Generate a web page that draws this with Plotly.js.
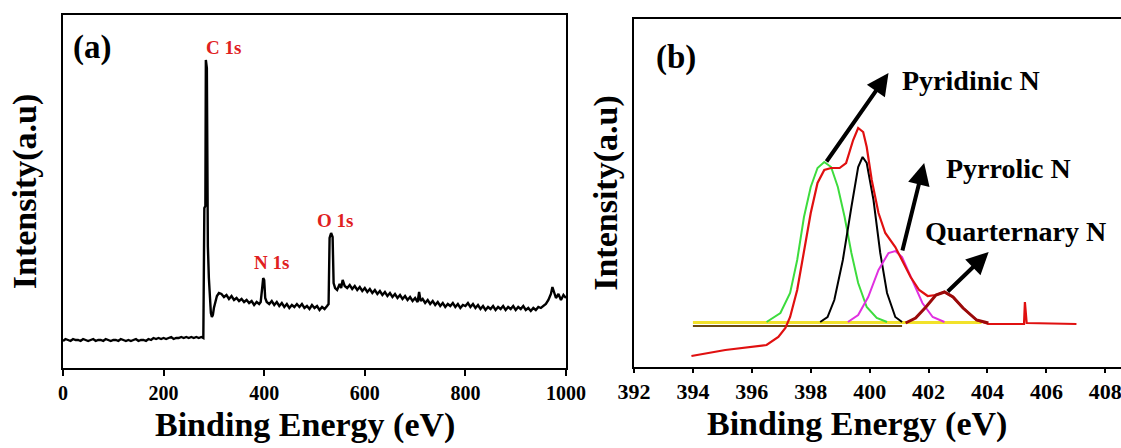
<!DOCTYPE html>
<html>
<head>
<meta charset="utf-8">
<script src="https://cdn.plot.ly/plotly-3.0.1.min.js"></script>
<style>
html,body{margin:0;padding:0;overflow:hidden;background:#fff;width:1121px;height:448px;}
#chart{width:1140px;height:448px;}
</style>
</head>
<body>
<div id="chart"></div>
<script>
// ---------- Panel (a): XPS survey ----------
const surveyEnergy = [0,5,10,15,20,25,30,35,40,45,50,55,60,65,70,75,80,85,90,95,100,105,110,115,120,125,130,135,140,145,150,155,160,165,170,175,180,185,190,195,200,205,210,215,220,225,230,235,240,245,250,255,260,265,270,275,
279,281,283,284,286,287,288,290,292,294,296,298,300,303,306,310,
315,320,325,330,335,340,345,350,355,360,365,370,375,380,385,390,393,396,398,400,402,405,410,415,420,425,430,435,440,445,450,455,460,465,470,475,480,485,490,495,500,505,510,515,520,525,528,530,533,536,538,541,545,550,553,556,560,565,570,575,580,585,590,595,600,605,610,615,620,625,630,635,640,645,650,655,660,665,670,675,680,685,690,695,700,705,708,711,715,720,725,730,735,740,745,750,755,760,765,770,775,780,785,790,795,800,805,810,815,820,825,830,835,840,845,850,855,860,865,870,875,880,885,890,895,900,905,910,915,920,925,930,935,940,945,950,955,960,965,970,973,976,980,985,990,995,1000];
const surveyIntensity = [27,29,28,27,29,28,28,27,29,28,27,28,29,27,28,28,27,29,28,27,28,28,27,29,28,27,28,27,28,29,27,28,28,27,29,28,30,29,30,29,30,29,30,31,29,30,30,31,30,31,30,31,30,31,30,31,
30,160,162,308,300,125,122,90,70,55,51,53,60,68,72,75,
74,71,73,69,72,68,70,67,69,66,68,65,67,63,66,64,66,80,90,88,70,66,64,67,63,66,62,65,61,64,60,63,61,64,61,64,60,62,59,63,60,62,58,61,59,62,64,130,135,131,85,80,78,84,80,88,82,80,83,79,82,78,81,77,80,76,79,75,78,74,77,73,76,72,75,71,74,70,73,69,72,68,71,67,70,66,76,67,69,65,68,64,67,63,66,62,65,61,64,62,65,61,64,60,63,62,65,61,64,60,63,59,62,58,61,59,62,58,61,59,62,58,61,59,62,58,61,59,62,58,60,57,60,58,61,60,62,64,68,74,81,75,70,74,68,73,70];

const surveyLabels = ['C 1s', 'N 1s', 'O 1s'];

// ---------- Panel (b): N 1s high resolution ----------
const envelopeEnergy = [393.95,395.1,396.5,396.9,397.14,397.3,397.54,397.77,398.0,398.23,398.46,398.69,398.98,399.2,399.44,399.61,399.78,399.9,400.07,400.3,400.53,400.87,401.1,401.39,401.68,401.97,402.25,402.54,402.83,403.17,403.63,404.03,405.24,405.27,405.33,407.02];
const envelopeIntensity = [11,17,22,30,39,50,77,114,154,184,197,199,199,204,227,239,235,220,187,154,134,120,107,90,77,71,72,75,70,59,47,43,43,65,44,43];

const pyridinicEnergy = [396.5,396.97,397.3,397.54,397.77,398.0,398.23,398.46,398.69,398.92,399.15,399.38,399.61,399.9,400.24,400.59];
const pyridinicIntensity = [45,54,74,107,150,180,199,205,200,180,150,114,84,60,49,45];

const graphiticEnergy = [398.32,398.57,398.8,399.09,399.38,399.61,399.76,399.9,400.13,400.36,400.59,400.87,401.1];
const graphiticIntensity = [45,50,67,107,160,200,210,204,167,114,74,50,45];

const pyrrolicEnergy = [399.26,399.61,399.95,400.3,400.64,400.87,401.1,401.45,401.79,402.14,402.54];
const pyrrolicIntensity = [45,52,70,97,114,116,110,87,64,50,45];

const quaternaryEnergy = [401.22,401.56,401.91,402.25,402.54,402.83,403.17,403.63,404.03];
const quaternaryIntensity = [44,49,60,72,75,70,59,47,44];

const baselineYellowEnergy = [394.0,403.8];
const baselineYellowIntensity = [44.5,44.5];
const baselineBrownEnergy = [394.0,401.1];
const baselineBrownIntensity = [41,41];

const peakNames = ['Pyridinic N', 'Pyrrolic N', 'Quarternary N'];
const xTitle = 'Binding Energy (eV)';
const yTitle = 'Intensity(a.u)';

const W = 1140, H = 448;
const serif = 'Liberation Serif, Times New Roman, serif';

function line(x, y, color, width, xa, ya) {
  return {x: x, y: y, type: 'scatter', mode: 'lines', xaxis: xa, yaxis: ya,
          line: {color: color, width: width, shape: 'linear'}, hoverinfo: 'skip', showlegend: false};
}

const traces = [
  line(surveyEnergy, surveyIntensity, '#000000', 2.4, 'x', 'y'),
  line(baselineBrownEnergy, baselineBrownIntensity, '#6b4a10', 2, 'x2', 'y2'),
  line(baselineYellowEnergy, baselineYellowIntensity, '#f2e22a', 3, 'x2', 'y2'),
  line(pyridinicEnergy, pyridinicIntensity, '#3ddc3d', 2, 'x2', 'y2'),
  line(graphiticEnergy, graphiticIntensity, '#000000', 2, 'x2', 'y2'),
  line(pyrrolicEnergy, pyrrolicIntensity, '#e030e0', 2, 'x2', 'y2'),
  line(envelopeEnergy, envelopeIntensity, '#e01010', 2.2, 'x2', 'y2'),
  line(quaternaryEnergy, quaternaryIntensity, '#9a0a0a', 3, 'x2', 'y2')
];

const tickFontA = {family: serif, size: 20, color: '#000', weight: 'bold'};
const tickFontB = {family: serif, size: 22, color: '#000', weight: 'bold'};
const titleFont = {family: serif, size: 34, color: '#000', weight: 'bold'};

const axisCommon = {showline: true, linecolor: '#000', linewidth: 2, mirror: true,
                    showgrid: false, zeroline: false};

const layout = {
  width: W, height: H,
  margin: {l: 0, r: 0, t: 0, b: 0},
  paper_bgcolor: '#fff', plot_bgcolor: '#fff',
  showlegend: false,
  xaxis: Object.assign({}, axisCommon, {
    domain: [63 / W, 566 / W], range: [0, 1000],
    tickvals: [0, 200, 400, 600, 800, 1000], ticks: 'outside', ticklen: 6, tickwidth: 2, tickcolor: '#000',
    tickfont: tickFontA, anchor: 'y'
  }),
  yaxis: Object.assign({}, axisCommon, {
    domain: [80 / H, 433 / H], range: [0, 353],
    showticklabels: false, ticks: '', anchor: 'x',
    title: {text: yTitle, font: titleFont, standoff: 14}
  }),
  xaxis2: Object.assign({}, axisCommon, {
    domain: [634 / W, 1128 / W], range: [392, 408.77],
    tick0: 392, dtick: 2, ticks: 'outside', ticklen: 4, tickwidth: 2, tickcolor: '#000',
    tickfont: tickFontB, anchor: 'y2'
  }),
  yaxis2: Object.assign({}, axisCommon, {
    domain: [81 / H, 429 / H], range: [0, 348],
    showticklabels: false, ticks: '', anchor: 'x2',
    title: {text: yTitle, font: titleFont, standoff: 4}
  }),
  annotations: [
    {xref: 'paper', yref: 'paper', x: 305 / W, y: (H - 425) / H, text: xTitle, showarrow: false,
     xanchor: 'center', yanchor: 'middle', font: titleFont},
    {xref: 'paper', yref: 'paper', x: 857 / W, y: (H - 424) / H, text: xTitle, showarrow: false,
     xanchor: 'center', yanchor: 'middle', font: titleFont},
    {xref: 'paper', yref: 'paper', x: 92 / W, y: (H - 47) / H, text: '(a)', showarrow: false,
     xanchor: 'center', yanchor: 'middle', font: {family: serif, size: 33, color: '#000', weight: 'bold'}},
    {xref: 'paper', yref: 'paper', x: 676 / W, y: (H - 57) / H, text: '(b)', showarrow: false,
     xanchor: 'center', yanchor: 'middle', font: {family: serif, size: 33, color: '#000', weight: 'bold'}},
    {xref: 'paper', yref: 'paper', x: 223 / W, y: (H - 48) / H, text: surveyLabels[0], showarrow: false,
     xanchor: 'center', yanchor: 'middle', font: {family: serif, size: 19, color: '#e02020', weight: 'bold'}},
    {xref: 'paper', yref: 'paper', x: 271 / W, y: (H - 262) / H, text: surveyLabels[1], showarrow: false,
     xanchor: 'center', yanchor: 'middle', font: {family: serif, size: 19, color: '#e02020', weight: 'bold'}},
    {xref: 'paper', yref: 'paper', x: 335 / W, y: (H - 220) / H, text: surveyLabels[2], showarrow: false,
     xanchor: 'center', yanchor: 'middle', font: {family: serif, size: 19, color: '#e02020', weight: 'bold'}},
    {xref: 'paper', yref: 'paper', x: 971 / W, y: (H - 80) / H, text: peakNames[0], showarrow: false,
     xanchor: 'center', yanchor: 'middle', font: {family: serif, size: 28, color: '#000', weight: 'bold'}},
    {xref: 'paper', yref: 'paper', x: 1008 / W, y: (H - 168) / H, text: peakNames[1], showarrow: false,
     xanchor: 'center', yanchor: 'middle', font: {family: serif, size: 28, color: '#000', weight: 'bold'}},
    {xref: 'paper', yref: 'paper', x: 1015 / W, y: (H - 232) / H, text: peakNames[2], showarrow: false,
     xanchor: 'center', yanchor: 'middle', font: {family: serif, size: 28, color: '#000', weight: 'bold'}},
    {xref: 'x2', yref: 'y2', axref: 'x2', ayref: 'y2', x: 400.64, y: 294, ax: 398.5, ay: 204, text: '',
     showarrow: true, arrowhead: 2, arrowsize: 1.1, arrowwidth: 4, arrowcolor: '#000'},
    {xref: 'x2', yref: 'y2', axref: 'x2', ayref: 'y2', x: 401.85, y: 204, ax: 401.1, ay: 115, text: '',
     showarrow: true, arrowhead: 2, arrowsize: 1.1, arrowwidth: 4, arrowcolor: '#000'},
    {xref: 'x2', yref: 'y2', axref: 'x2', ayref: 'y2', x: 404.04, y: 115, ax: 402.6, ay: 74, text: '',
     showarrow: true, arrowhead: 2, arrowsize: 1.1, arrowwidth: 4, arrowcolor: '#000'}
  ]
};

Plotly.newPlot('chart', traces, layout, {staticPlot: true, displayModeBar: false});
</script>
</body>
</html>
